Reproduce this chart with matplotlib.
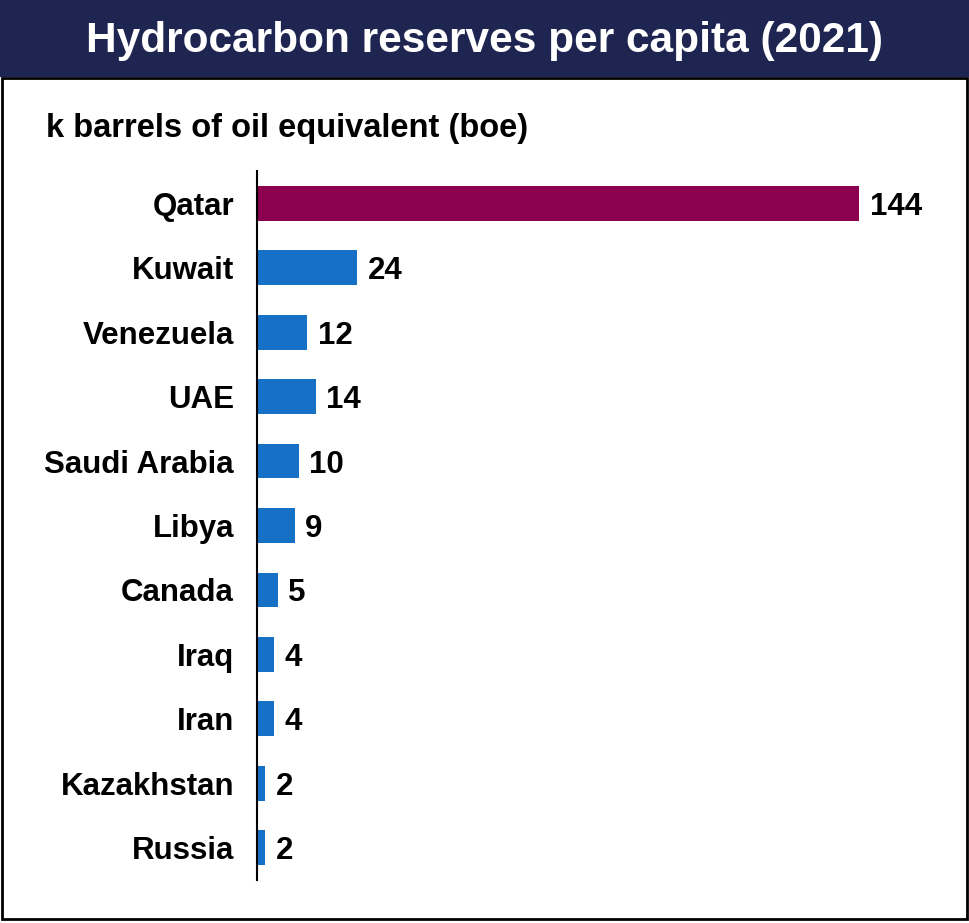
import matplotlib
matplotlib.use("Agg")
import matplotlib.pyplot as plt
from matplotlib.patches import Rectangle

countries = ["Qatar", "Kuwait", "Venezuela", "UAE", "Saudi Arabia", "Libya",
             "Canada", "Iraq", "Iran", "Kazakhstan", "Russia"]
reserves = [144, 24, 12, 14, 10, 9, 5, 4, 4, 2, 2]
highlight = "Qatar"

plt.rcParams["font.family"] = ["Liberation Sans", "DejaVu Sans"]

W, H = 969, 923
fig = plt.figure(figsize=(W / 100, H / 100), dpi=100)
fig.patch.set_facecolor("white")

# header band and panel frame
fig.add_artist(Rectangle((0, 1 - 77 / H), 1, 77 / H, transform=fig.transFigure,
                         facecolor="#1F2551", edgecolor="none", zorder=0))
fig.add_artist(Rectangle((1.5 / W, 1 - 919 / H), 965 / W, (919 - 78) / H,
                         transform=fig.transFigure, facecolor="none",
                         edgecolor="black", linewidth=2, zorder=5))
fig.text(485 / W, 1 - 41 / H, "Hydrocarbon reserves per capita (2021)",
         color="white", fontsize=30.5, fontweight="bold", ha="center", va="center")
fig.text(46 / W, 1 - 128 / H, "k barrels of oil equivalent (boe)",
         color="black", fontsize=23.5, fontweight="bold", ha="left", va="center")

ax = fig.add_axes([257 / W, 1 - 880 / H, (926 - 257) / W, (880 - 171) / H])
ypos = list(range(len(countries)))
colors = ["#8B004F" if c == highlight else "#1570C6" for c in countries]
ax.barh(ypos, reserves, height=0.54, color=colors, edgecolor="none")

ax.set_xlim(0, 160)
ax.set_ylim(len(countries) - 0.5, -0.5)
ax.set_yticks(ypos)
ax.set_yticklabels(countries, fontsize=22.5, fontweight="bold")
ax.tick_params(axis="y", length=0, pad=16.5)
ax.set_xticks([])
for s in ["top", "right", "bottom"]:
    ax.spines[s].set_visible(False)
ax.spines["left"].set_linewidth(1.5)
ax.spines["left"].set_color("black")

for y, v in zip(ypos, reserves):
    ax.annotate(f"{v}", xy=(v, y), xytext=(7.5, 0), textcoords="offset points",
                ha="left", va="center_baseline", fontsize=22.5, fontweight="bold")

fig.savefig("out.png", dpi=100)
